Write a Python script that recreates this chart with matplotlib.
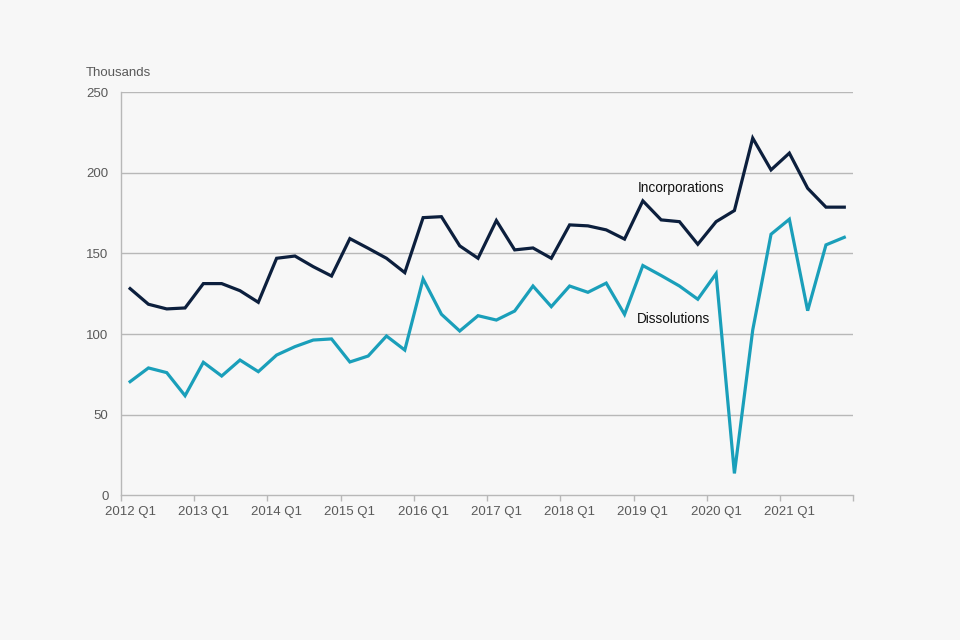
import numpy as np
import matplotlib.pyplot as plt

# quarterly values, thousands, 2012 Q1 .. 2021 Q4
quarters = [f"{y} Q{q}" for y in range(2012, 2022) for q in range(1, 5)]
incorporations = [128.2, 118.5, 115.6, 116.2, 131.3, 131.3, 126.9, 119.7,
                  147.0, 148.4, 141.8, 136.0, 159.2, 153.2, 147.0, 138.1,
                  172.2, 172.8, 154.7, 147.0, 170.4, 152.2, 153.4, 147.0,
                  167.7, 167.1, 164.6, 158.9, 182.6, 170.8, 169.7, 155.7,
                  169.7, 176.6, 221.5, 201.8, 212.2, 190.4, 178.7, 178.7]
dissolutions = [70.5, 79.0, 76.1, 61.8, 82.5, 74.0, 83.9, 76.7,
                87.0, 92.2, 96.3, 97.0, 82.7, 86.4, 98.8, 90.1,
                134.2, 112.3, 101.9, 111.4, 108.7, 114.3, 129.8, 117.0,
                129.8, 125.9, 131.6, 112.2, 142.5, 136.3, 129.8, 121.6,
                137.5, 13.6, 102.5, 161.9, 171.2, 114.5, 155.3, 160.0]
y_ticks = [0, 50, 100, 150, 200, 250]

bg = '#f7f7f7'
grid_col = '#b8b8b8'
text_col = '#595959'

plt.rcParams['font.family'] = ['Liberation Sans', 'DejaVu Sans']

fig = plt.figure(figsize=(9.6, 6.4), dpi=100, facecolor=bg)
ax = fig.add_axes([0.126, 0.226, 0.763, 0.630], facecolor=bg)

x = np.arange(len(quarters))
ax.plot(x, incorporations, color='#0c1f3d', lw=2.3, solid_joinstyle='miter')
ax.plot(x, dissolutions, color='#1a9fba', lw=2.3, solid_joinstyle='miter')

ax.set_xlim(-0.5, len(quarters) - 0.5)
ax.set_ylim(0, 250)
ax.set_yticks(y_ticks)
for v in y_ticks[1:]:
    ax.axhline(v, color=grid_col, lw=1.0, zorder=0)

# band boundaries get tick marks, labels sit at band centres
ax.set_xticks(np.arange(-0.5, len(quarters), 4))
ax.set_xticklabels([])
ax.set_xticks(x[::4], minor=True)
ax.set_xticklabels(quarters[::4], minor=True)
ax.tick_params(axis='x', which='major', length=4, color=grid_col, width=1)
ax.tick_params(axis='x', which='minor', length=0, pad=8, labelsize=9.5, labelcolor=text_col)
ax.tick_params(axis='y', length=0, pad=9, labelsize=9.5, labelcolor=text_col)

for s in ['top', 'right']:
    ax.spines[s].set_visible(False)
for s in ['left', 'bottom']:
    ax.spines[s].set_color(grid_col)
    ax.spines[s].set_linewidth(1.0)

fig.text(85.5 / 960, 1 - 72.5 / 640, 'Thousands', fontsize=9.5, color=text_col,
         ha='left', va='center')
ax.text(27.7, 190.5, 'Incorporations', fontsize=9.8, color='#111111', ha='left', va='center')
ax.text(27.7, 109.5, 'Dissolutions', fontsize=9.8, color='#111111', ha='left', va='center')

fig.savefig('out.png', dpi=100, facecolor=bg)
